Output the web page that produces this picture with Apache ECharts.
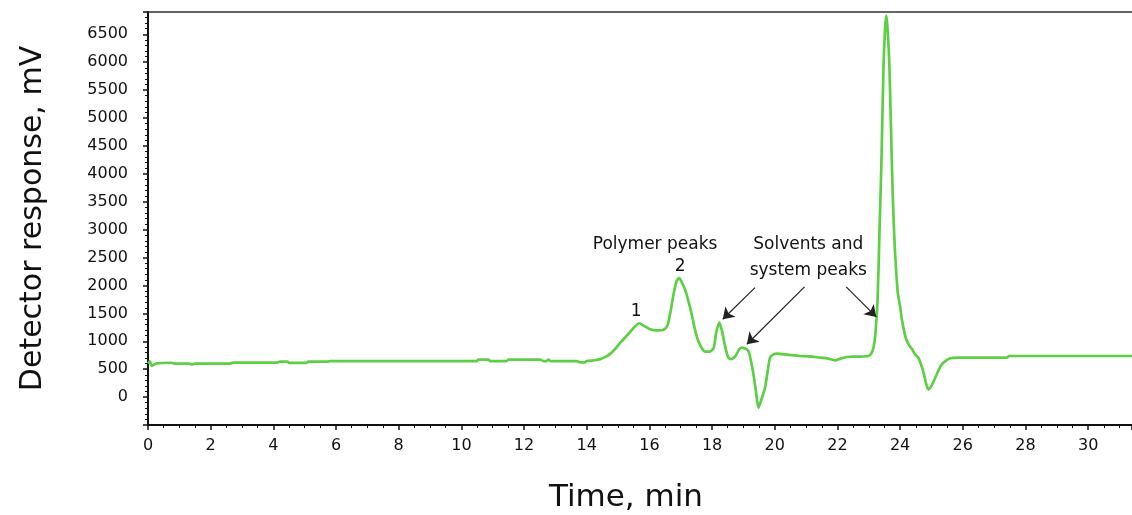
<!DOCTYPE html>
<html>
<head>
<meta charset="utf-8">
<title>Chromatogram</title>
<script src="https://cdn.jsdelivr.net/npm/echarts@6/dist/echarts.min.js"></script>
<style>
  html, body { margin: 0; padding: 0; background: #ffffff; }
  #chart { width: 1132px; height: 515px; }
</style>
</head>
<body>
<div id="chart"></div>
<script>
// Retention time (min) and detector signal (mV)
const timeMin = [
  0.00, 0.06, 0.12, 0.28, 0.75, 0.85, 1.30, 1.39, 1.50, 2.60, 2.72, 4.10, 4.21, 4.45, 4.50,
  5.06, 5.12, 5.75, 5.81, 10.49, 10.54, 10.86, 10.92, 11.44, 11.50, 12.51, 12.62, 12.72, 12.78,
  12.84, 13.68, 13.79, 13.95, 14.00, 14.25, 14.43, 14.60, 14.75, 14.90, 15.07, 15.28, 15.48,
  15.68, 15.85, 16.02, 16.25, 16.45, 16.58, 16.68, 16.77, 16.87, 16.95, 17.05, 17.17, 17.35,
  17.45, 17.56, 17.68, 17.78, 17.92, 18.05, 18.13, 18.23, 18.31, 18.38, 18.45, 18.52, 18.60,
  18.75, 18.87, 18.95, 19.05, 19.16, 19.24, 19.32, 19.40, 19.48, 19.57, 19.69, 19.77, 19.85,
  19.95, 20.07, 20.40, 20.81, 21.10, 21.45, 21.70, 21.93, 22.10, 22.30, 22.60, 22.99, 23.08,
  23.15, 23.21, 23.28, 23.34, 23.40, 23.47, 23.52, 23.56, 23.60, 23.66, 23.74, 23.81, 23.92,
  24.00, 24.06, 24.17, 24.27, 24.38, 24.48, 24.59, 24.75, 24.84, 24.91, 25.00, 25.12, 25.33,
  25.60, 25.90, 27.40, 27.48, 31.40
];
const responseMv = [
  600, 640, 560, 605, 615, 600, 598, 585, 598, 600, 617, 617, 635, 635, 613,
  612, 635, 635, 646, 646, 670, 670, 646, 646, 670, 670, 646, 646, 670,
  646, 646, 623, 623, 646, 660, 680, 720, 775, 860, 975, 1100, 1230,
  1323, 1270, 1215, 1195, 1205, 1290, 1550, 1844, 2080, 2131, 2040, 1873, 1485,
  1220, 1005, 870, 813, 815, 880, 1150, 1334, 1200, 1005, 830, 706, 680,
  740, 860, 885, 870, 826, 650, 407, 100, -192, -50, 167, 450, 706,
  760, 778, 760, 736, 730, 706, 690, 659, 690, 718, 725, 736, 780,
  885, 1125, 1723, 2926, 4117, 5912, 6600, 6840, 6600, 5912, 4117, 2926, 1900,
  1620, 1380, 1080, 946, 860, 766, 700, 436, 220, 138, 200, 347, 587,
  695, 706, 706, 736, 736
];

// Annotation texts anchored at [time, mV]
const noteTexts = ['Polymer peaks', '2', '1', 'Solvents and', 'system peaks'];
const noteAt = [[16.18, 2729], [16.98, 2334], [15.58, 1526], [21.07, 2729], [21.07, 2262]];

// Arrows: start [time, mV] -> tip [time, mV]
const arrowFrom = [[19.37, 1962], [20.95, 1975], [22.28, 1975]];
const arrowTo = [[18.34, 1395], [19.11, 946], [23.24, 1436]];

const seriesData = timeMin.map((t, i) => [t, responseMv[i]]);

const FONT = 'DejaVu Sans';
const INK = '#111111';

const chart = echarts.init(document.getElementById('chart'), null, { renderer: 'canvas' });

chart.setOption({
  animation: false,
  backgroundColor: '#ffffff',
  grid: { left: 148, right: 0, top: 12, bottom: 90, containLabel: false, outerBoundsMode: 'none' },
  xAxis: [{
    type: 'value',
    min: 0,
    max: 31.4,
    interval: 2,
    name: 'Time, min',
    nameLocation: 'middle',
    nameGap: 57,
    nameTextStyle: { fontFamily: FONT, fontSize: 31, color: INK, padding: [0, 28, 0, 0] },
    axisLine: { show: true, onZero: false, lineStyle: { color: INK, width: 2 } },
    axisTick: { show: true, inside: false, length: 5, lineStyle: { color: INK, width: 1.5 } },
    minorTick: { show: true, splitNumber: 4, length: 3, lineStyle: { color: INK, width: 1 } },
    axisLabel: { fontFamily: FONT, fontSize: 16, color: INK, margin: 13, showMaxLabel: false },
    splitLine: { show: false }
  }, {
    type: 'value',
    position: 'top',
    min: 0,
    max: 31.4,
    axisLine: { show: true, onZero: false, lineStyle: { color: '#333', width: 1.5 } },
    axisTick: { show: false },
    axisLabel: { show: false },
    splitLine: { show: false }
  }],
  yAxis: {
    type: 'value',
    min: -500,
    max: 6900,
    interval: 500,
    name: 'Detector response, mV',
    nameLocation: 'middle',
    nameGap: 100,
    nameTextStyle: { fontFamily: FONT, fontSize: 30, color: INK },
    axisLine: { show: true, onZero: false, lineStyle: { color: INK, width: 2 } },
    axisTick: { show: true, inside: false, length: 5, lineStyle: { color: INK, width: 1.5 } },
    minorTick: { show: true, splitNumber: 5, length: 3, lineStyle: { color: INK, width: 1 } },
    axisLabel: {
      fontFamily: FONT, fontSize: 16, color: INK, margin: 20,
      showMinLabel: false, showMaxLabel: false,
      formatter: v => String(v)
    },
    splitLine: { show: false }
  },
  series: [{
    type: 'line',
    data: seriesData,
    showSymbol: false,
    smooth: 0.25,
    lineStyle: { color: '#5ccf45', width: 2.7 },
    itemStyle: { color: '#5ccf45' },
    silent: true,
    markPoint: {
      silent: true,
      symbol: 'circle',
      symbolSize: 0,
      label: {
        show: true,
        position: 'inside',
        fontFamily: FONT,
        fontSize: 17,
        color: INK,
        formatter: p => p.name
      },
      data: noteTexts.map((txt, i) => ({ name: txt, coord: noteAt[i] }))
    },
    markLine: {
      silent: true,
      symbol: ['none', 'arrow'],
      symbolSize: 11,
      label: { show: false },
      lineStyle: { color: '#222', width: 1.2, type: 'solid' },
      data: arrowFrom.map((a, i) => [{ coord: a }, { coord: arrowTo[i] }])
    }
  }]
});
</script>
</body>
</html>
